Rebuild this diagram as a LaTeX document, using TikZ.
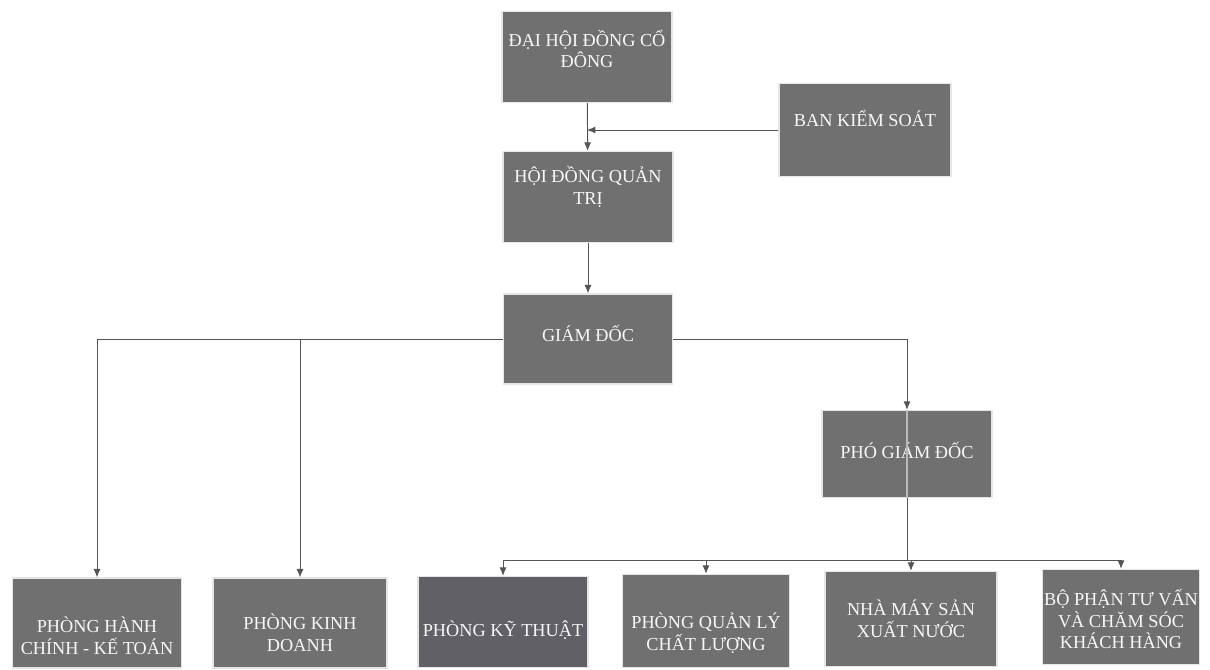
\documentclass[tikz,border=0pt]{standalone}
\usepackage{fontspec}
\setmainfont{Liberation Serif}
\usetikzlibrary{arrows.meta}
\definecolor{boxgray}{RGB}{112,112,112}
\definecolor{boxdark}{RGB}{96,96,102}
\definecolor{linegray}{RGB}{85,85,85}
\begin{document}
\begin{tikzpicture}[x=0.025cm, y=-0.025cm]
        \tikzstyle{unit}=[fill=boxgray, draw=gray!20, line width=0.8pt, inner sep=0pt]
        \tikzstyle{caption}=[text=white!94!gray, align=center, inner sep=0pt,
            font=\fontsize{13}{15.6}\selectfont]
        \tikzstyle{link}=[draw=linegray, line width=0.7pt, -{Latex[length=6pt, width=5pt]}]
        \useasboundingbox[fill=white] (0,0) rectangle (1210,670);

        % Cap tren
        \node[unit, minimum width=4.25cm, minimum height=2.28cm,
            label={[caption, yshift=0.2cm]center:ĐẠI HỘI ĐỒNG CỔ\\ĐÔNG}] (dhcd) at (587,57) {};
        \node[unit, minimum width=4.3cm, minimum height=2.33cm,
            label={[caption, yshift=0.3cm]center:BAN KIỂM SOÁT}] (bks) at (865,130) {};
        \node[unit, minimum width=4.25cm, minimum height=2.28cm,
            label={[caption, yshift=0.25cm]center:HỘI ĐỒNG QUẢN\\TRỊ}] (hdqt) at (588,197) {};
        \node[unit, minimum width=4.22cm, minimum height=2.25cm,
            label={[caption, yshift=0.15cm]center:GIÁM ĐỐC}] (gd) at (588,339) {};
        \node[unit, minimum width=4.25cm, minimum height=2.18cm,
            label={[caption, yshift=0.1cm]center:PHÓ GIÁM ĐỐC}] (pgd) at (907,454) {};

        % Cac phong ban
        \node[unit, minimum width=4.22cm, minimum height=2.25cm,
            label={[caption, yshift=-0.33cm]center:PHÒNG HÀNH\\CHÍNH - KẾ TOÁN}] (hckt) at (97,623) {};
        \node[unit, minimum width=4.35cm, minimum height=2.25cm,
            label={[caption, yshift=-0.25cm]center:PHÒNG KINH\\DOANH}] (kd) at (300,623) {};
        \node[unit, fill=boxdark, minimum width=4.25cm, minimum height=2.28cm,
            label={[caption, yshift=-0.2cm]center:PHÒNG KỸ THUẬT}] (kt) at (503,622) {};
        \node[unit, minimum width=4.18cm, minimum height=2.33cm,
            label={[caption, yshift=-0.3cm]center:PHÒNG QUẢN LÝ\\CHẤT LƯỢNG}] (qlcl) at (706,621) {};
        \node[unit, minimum width=4.3cm, minimum height=2.38cm,
            label={[caption]center:NHÀ MÁY SẢN\\XUẤT NƯỚC}] (nm) at (911,619) {};
        \node[unit, minimum width=3.93cm, minimum height=2.38cm,
            label={[caption, yshift=-0.05cm]center:BỘ PHẬN TƯ VẤN\\VÀ CHĂM SÓC\\KHÁCH HÀNG}] (tv) at (1121,617) {};

        % Duong noi
        \draw[link] (dhcd) -- (hdqt);
        \draw[link] (bks.west) -- (bks.west -| dhcd.south);
        \draw[link] (hdqt) -- (gd);
        \draw[link] (gd.west) -| (hckt.north);
        \draw[link] (gd.west -| kd.north) -- (kd.north);
        \draw[link] (gd.east) -| (pgd.north);
        \draw[gray!55, line width=1.2pt] (pgd.north) -- (pgd.south);
        \coordinate (bus) at (pgd.south |- 0,560);
        \draw[draw=linegray, line width=0.7pt] (pgd.south) -- (bus);
        \draw[link] (bus) -| (kt.north);
        \draw[link] (bus -| qlcl.north) -- (qlcl.north);
        \draw[link] (bus -| nm.north) -- (nm.north);
        \draw[link] (bus) -| (tv.north);
    \end{tikzpicture}
\end{document}
